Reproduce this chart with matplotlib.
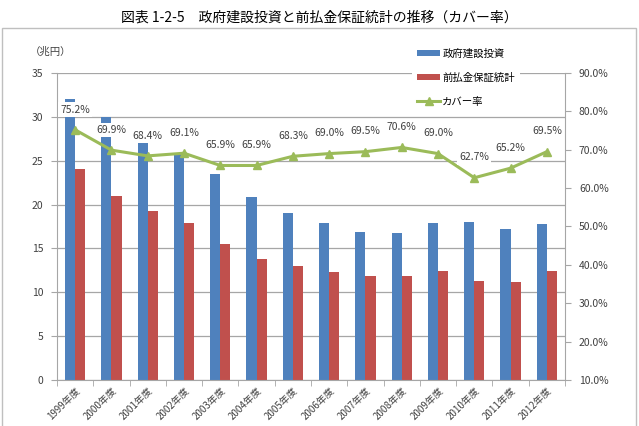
import matplotlib.pyplot as plt
from matplotlib.patches import Rectangle
import numpy as np

plt.rcParams['font.family'] = ['Noto Sans CJK JP', 'DejaVu Sans']

years = ["1999年度", "2000年度", "2001年度", "2002年度", "2003年度", "2004年度", "2005年度",
         "2006年度", "2007年度", "2008年度", "2009年度", "2010年度", "2011年度", "2012年度"]
gov_invest = [32.0, 30.0, 28.2, 25.9, 23.5, 20.9, 19.0, 17.9, 16.9, 16.8, 17.9, 18.0, 17.2, 17.8]
advance_guarantee = [24.1, 21.0, 19.3, 17.9, 15.5, 13.8, 13.0, 12.3, 11.8, 11.8, 12.4, 11.3, 11.2, 12.4]
cover_rate = [75.2, 69.9, 68.4, 69.1, 65.9, 65.9, 68.3, 69.0, 69.5, 70.6, 69.0, 62.7, 65.2, 69.5]

blue = "#4F81BD"
red = "#C0504D"
green = "#9BBB59"
grid_c = "#A6A6A6"
txt_c = "#404040"

fig = plt.figure(figsize=(6.39, 4.26), dpi=100)
ax = fig.add_axes([57/639, 1 - 380/426, 508/639, 307/426])

# outer frame
fig.patches.append(Rectangle((2/639, -0.05), 634/639, 1 - 28/426 + 0.05, transform=fig.transFigure,
                             fill=False, edgecolor="#BFBFBF", linewidth=1.0))

fig.text(0.5, 1 - 18/426, "図表 1-2-5　政府建設投資と前払金保証統計の推移（カバー率）",
         ha="center", va="center", fontsize=10, color="black")

x = np.arange(len(years))
w = 0.28
b1 = ax.bar(x - w/2, gov_invest, w, color=blue, label="政府建設投資", zorder=2)
b2 = ax.bar(x + w/2, advance_guarantee, w, color=red, label="前払金保証統計", zorder=2)

ax.set_xlim(-0.5, len(years) - 0.5)
ax.set_ylim(0, 35)
ax.set_yticks(range(0, 36, 5))
ax.yaxis.grid(True, color=grid_c, linewidth=0.9, zorder=0)
ax.set_axisbelow(True)
ax.set_xticks(x)
ax.set_xticklabels(years, rotation=45, ha="right", va="top", rotation_mode="anchor", fontsize=7, color=txt_c)
ax.set_xticks(np.arange(-0.5, len(years), 1), minor=True)
ax.tick_params(axis="x", which="major", length=0, pad=4)
ax.tick_params(axis="x", which="minor", length=4, color=grid_c)
ax.tick_params(axis="y", labelsize=7.5, labelcolor=txt_c, length=4, color=grid_c, pad=6)
for s in ["top", "right"]:
    ax.spines[s].set_visible(False)
for s in ["left", "bottom"]:
    ax.spines[s].set_color(grid_c)

ax2 = ax.twinx()
ln, = ax2.plot(x, cover_rate, color=green, linewidth=2.2, marker="^", markersize=6, label="カバー率", zorder=3)
ax2.set_ylim(10, 90)
ax2.set_yticks(range(10, 91, 10))
ax2.set_yticklabels([f"{v:.1f}%" for v in range(10, 91, 10)])
ax2.tick_params(axis="y", labelsize=7.5, labelcolor=txt_c, length=4, color=grid_c, pad=6)
for s in ["top", "left", "bottom"]:
    ax2.spines[s].set_visible(False)
ax2.spines["right"].set_color(grid_c)

for xi, v in zip(x, cover_rate):
    ax2.annotate(f"{v:.1f}%", (xi, v), xytext=(0, 11), textcoords="offset points",
                 ha="center", va="bottom", fontsize=7.5, color=txt_c, zorder=5,
                 bbox=dict(boxstyle="square,pad=0.2", facecolor="white", edgecolor="none"))

fig.text(30/639, 1 - 52/426, "（兆円）", ha="left", va="center", fontsize=7.5, color=txt_c)

leg = ax2.legend([b1, b2, ln], ["政府建設投資", "前払金保証統計", "カバー率"],
                 loc="upper left", bbox_to_anchor=(412/639, 1 - 43/426), bbox_transform=fig.transFigure,
                 frameon=True, fontsize=7.5, labelspacing=1.35, handlelength=2.2, handleheight=0.5,
                 handletextpad=0.2, borderpad=0.5, borderaxespad=0)
leg.get_frame().set_edgecolor("none")
leg.get_frame().set_facecolor("white")
leg.get_frame().set_alpha(1)
leg.set_zorder(10)
for t in leg.get_texts():
    t.set_color("black")

fig.savefig("out.png", dpi=100)
